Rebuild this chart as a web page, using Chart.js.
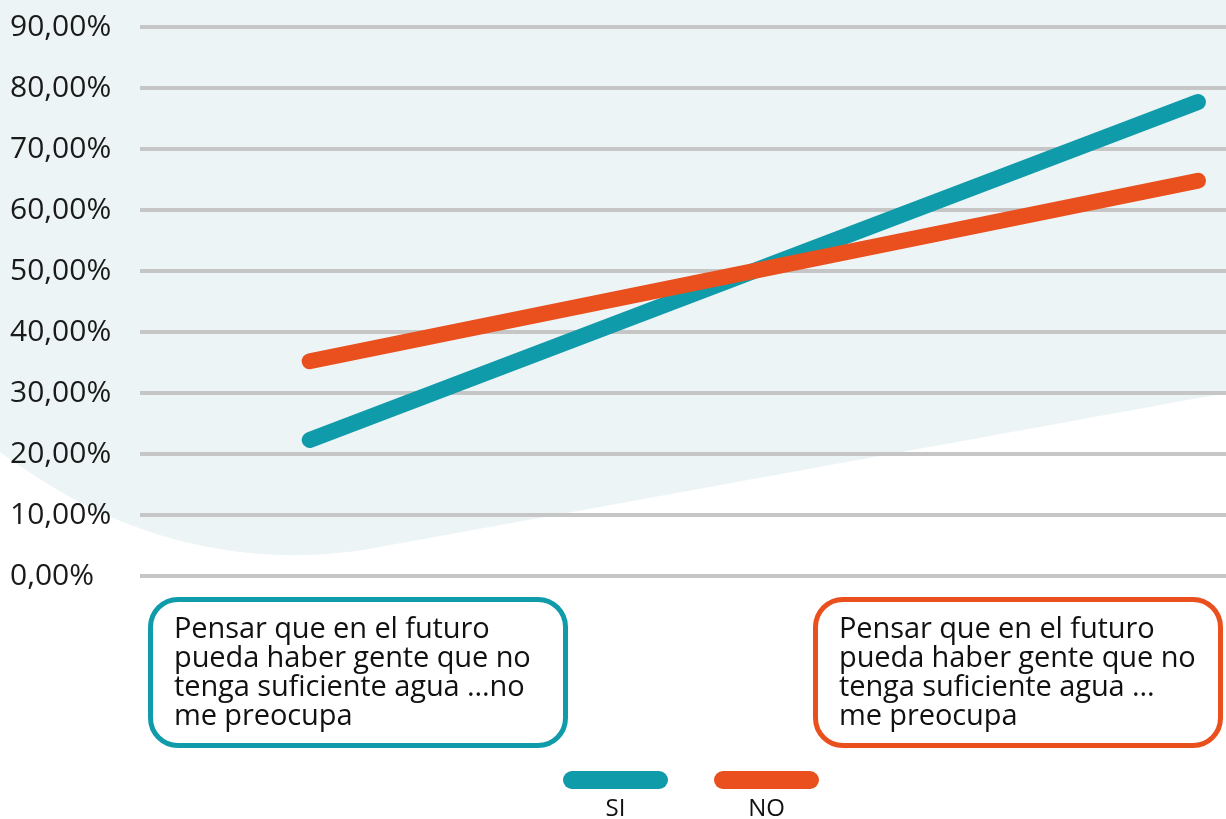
<!DOCTYPE html>
<html>
<head>
<meta charset="utf-8">
<script src="https://cdn.jsdelivr.net/npm/chart.js@4/dist/chart.umd.min.js"></script>
<style>
  html, body { margin: 0; padding: 0; background: #ffffff; }
  #wrap { position: relative; width: 1226px; height: 819px; overflow: hidden; font-family: "Open Sans", "Noto Sans", sans-serif; }
  canvas { position: absolute; left: 0; top: 0; }
  .cat { position: absolute; box-sizing: border-box; top: 597px; height: 151px; border: 5px solid; border-radius: 30px; background: #fff;
         padding: 10px 0 0 21px; font-size: 29px; line-height: 29px; color: #111; white-space: nowrap; letter-spacing: -0.1px; }
  .leg { position: absolute; top: 771px; width: 105px; text-align: center; }
  .leg .pill { height: 18px; border-radius: 9px; }
  .leg .lab { margin-top: 4px; font-size: 24px; line-height: 28px; color: #111; }
</style>
</head>
<body>
<div id="wrap">
  <canvas id="c" width="1226" height="819"></canvas>
</div>
<script>
// ---- data ----
const categories = [
  ["Pensar que en el futuro", "pueda haber gente que no", "tenga suficiente agua ...no", "me preocupa"],
  ["Pensar que en el futuro", "pueda haber gente que no", "tenga suficiente agua ...", "me preocupa"]
];
const seriesNames = ["SI", "NO"];
const siValues = [22.3, 77.7];
const noValues = [35.2, 64.8];
const yTicks = [0, 10, 20, 30, 40, 50, 60, 70, 80, 90];

const colors = ["#109BAA", "#E9501E"];

const bgPlugin = {
  id: 'bgShape',
  beforeDraw(chart) {
    const ctx = chart.ctx;
    ctx.save();
    ctx.fillStyle = '#ECF4F6';
    ctx.beginPath();
    ctx.moveTo(0, 0);
    ctx.lineTo(1226, 0);
    ctx.lineTo(1226, 393);
    ctx.lineTo(385, 546);
    ctx.bezierCurveTo(320, 559, 250, 560, 170, 538);
    ctx.bezierCurveTo(100, 518, 50, 488, 0, 452);
    ctx.closePath();
    ctx.fill();
    ctx.restore();
  }
};

const fmt = v => v.toFixed(2).replace('.', ',') + '%';

const chart = new Chart(document.getElementById('c'), {
  type: 'line',
  data: {
    datasets: [
      { label: seriesNames[0], data: siValues.map((v, i) => ({ x: i, y: v })), borderColor: colors[0], backgroundColor: colors[0] },
      { label: seriesNames[1], data: noValues.map((v, i) => ({ x: i, y: v })), borderColor: colors[1], backgroundColor: colors[1] }
    ].reverse()
  },
  options: {
    responsive: false,
    animation: false,
    devicePixelRatio: 1,
    layout: { padding: { top: 27, bottom: 243, left: 10, right: 0 } },
    elements: {
      line: { borderWidth: 16, borderCapStyle: 'round', borderJoinStyle: 'round', tension: 0 },
      point: { radius: 0, hoverRadius: 0 }
    },
    plugins: { legend: { display: false }, tooltip: { enabled: false } },
    scales: {
      x: { type: 'linear', display: false, min: -0.191, max: 1.0315 },
      y: {
        min: 0, max: 90,
        afterBuildTicks(scale) { scale.ticks = yTicks.map(v => ({ value: v })); },
        afterFit(scale) { scale.width = 130; scale.paddingTop = 0; scale.paddingBottom = 0; },
        border: { display: false },
        grid: { color: '#C6C6C6', lineWidth: 4, drawTicks: false },
        ticks: {
          crossAlign: 'far',
          padding: 20,
          color: '#1a1a1a',
          font: { family: '"Open Sans", "Noto Sans", sans-serif', size: 30 },
          callback: v => fmt(v)
        }
      }
    }
  },
  plugins: [bgPlugin]
});

// category boxes (HTML, from categories array)
const wrap = document.getElementById('wrap');
const boxPos = [{ left: 148, width: 420 }, { left: 813, width: 410 }];
categories.forEach((lines, i) => {
  const d = document.createElement('div');
  d.className = 'cat';
  d.style.left = boxPos[i].left + 'px';
  d.style.width = boxPos[i].width + 'px';
  d.style.borderColor = colors[i];
  lines.forEach((t, k) => {
    if (k) d.appendChild(document.createElement('br'));
    d.appendChild(document.createTextNode(t));
  });
  wrap.appendChild(d);
});

// legend
const legX = [563, 714];
seriesNames.forEach((n, i) => {
  const d = document.createElement('div');
  d.className = 'leg';
  d.style.left = legX[i] + 'px';
  const p = document.createElement('div');
  p.className = 'pill';
  p.style.background = colors[i];
  const l = document.createElement('div');
  l.className = 'lab';
  l.textContent = n;
  d.appendChild(p); d.appendChild(l);
  wrap.appendChild(d);
});
</script>
</body>
</html>
